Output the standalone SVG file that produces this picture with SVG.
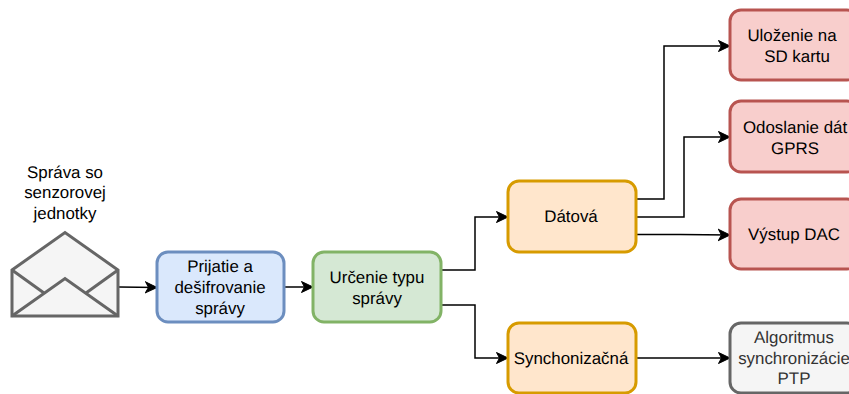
<svg xmlns="http://www.w3.org/2000/svg" width="849" height="394" viewBox="0 0 849 394">
<style>
text{font-family:"Liberation Sans",Arial,Helvetica,sans-serif;font-size:16.9px;fill:#000;text-anchor:middle;text-rendering:geometricPrecision}
.b{stroke-width:3}
.c{fill:none;stroke:#000;stroke-width:1.5;stroke-linejoin:miter}
.blue{fill:#dae8fc;stroke:#6c8ebf}
.green{fill:#d5e8d4;stroke:#82b366}
.orange{fill:#ffe6cc;stroke:#d79b00}
.red{fill:#f8cecc;stroke:#b85450}
.gray{fill:#f5f5f5;stroke:#666}
</style>
<defs>
<marker id="a" markerUnits="userSpaceOnUse" markerWidth="14" markerHeight="14" refX="12" refY="7" orient="auto">
<path d="M0.5 1.500 L12 7 L0.500 12.500 L3.500 7 Z" fill="#000" stroke="#000" stroke-width="1"/>
</marker>
</defs>
<rect width="849" height="394" fill="#fff"/>
<g id="connectors">
<path class="c" marker-end="url(#a)" d="M119 287 L157 287.5"/>
<path class="c" marker-end="url(#a)" d="M285 287 L313 287"/>
<path class="c" marker-end="url(#a)" d="M441 270 H475 V217 H508"/>
<path class="c" marker-end="url(#a)" d="M441 305 H475 V358 H508"/>
<path class="c" marker-end="url(#a)" d="M636 199 H664 V46 H730"/>
<path class="c" marker-end="url(#a)" d="M636 217 H684 V137 H730"/>
<path class="c" marker-end="url(#a)" d="M636 234.500 H680 L730 235"/>
<path class="c" marker-end="url(#a)" d="M636 358 H730"/>
</g>
<g id="envelope">
<path d="M12 270 L65 232.500 L118 270 V316 H12 Z" fill="#f5f5f5" stroke="#666" stroke-width="3" stroke-linejoin="miter"/>
<path d="M12 316 L65 278.500 L118 316 M12 270 L44 293 M118 270 L86 293" fill="none" stroke="#666" stroke-width="3"/>
<text x="65" y="178">Správa so</text>
<text x="65" y="198">senzorovej</text>
<text x="65" y="219">jednotky</text>
</g>
<g id="prijatie">
<rect class="b blue" x="157" y="252" width="127" height="70" rx="11"/>
<text x="220" y="272">Prijatie a</text>
<text x="220" y="293">dešifrovanie</text>
<text x="220" y="314">správy</text>
</g>
<g id="urcenie">
<rect class="b green" x="313" y="252" width="128" height="70" rx="11"/>
<text x="377" y="283">Určenie typu</text>
<text x="377" y="304">správy</text>
</g>
<g id="datova">
<rect class="b orange" x="508" y="181" width="128" height="71" rx="11"/>
<text x="571" y="222">Dátová</text>
</g>
<g id="synchronizacna">
<rect class="b orange" x="508" y="323" width="128" height="70" rx="11"/>
<text x="571" y="364">Synchonizačná</text>
</g>
<g id="ulozenie">
<rect class="b red" x="730" y="10" width="128" height="70" rx="11"/>
<text x="792" y="41">Uloženie na</text>
<text x="797" y="62">SD kartu</text>
</g>
<g id="odoslanie">
<rect class="b red" x="730" y="101" width="128" height="71" rx="11"/>
<text x="795" y="133">Odoslanie dát</text>
<text x="795" y="154">GPRS</text>
</g>
<g id="vystup">
<rect class="b red" x="730" y="199" width="128" height="70" rx="11"/>
<text x="794" y="240">Výstup DAC</text>
</g>
<g id="algoritmus">
<rect class="b gray" x="730" y="323" width="128" height="70" rx="11"/>
<text x="794" y="343" style="fill:#333">Algoritmus</text>
<text x="794" y="364" style="fill:#333">synchronizácie</text>
<text x="794" y="384" style="fill:#333">PTP</text>
</g>
</svg>
